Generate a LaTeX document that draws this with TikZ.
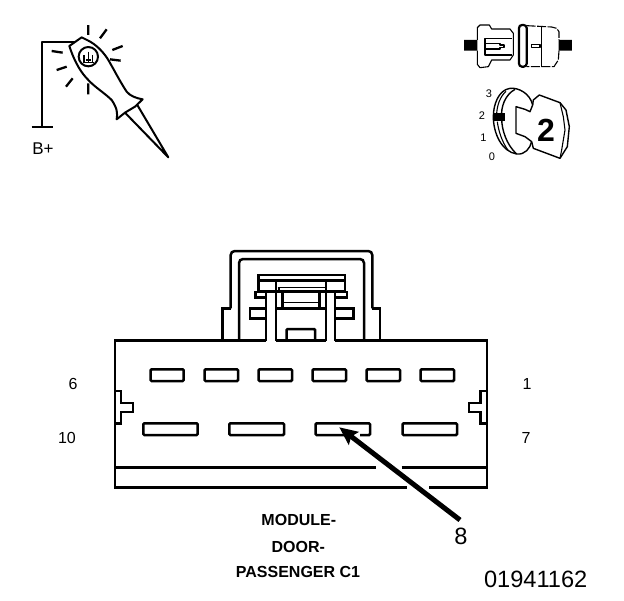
\documentclass[tikz,border=0pt]{standalone}
\usepackage{fontspec}
\setmainfont{Liberation Sans}
\usetikzlibrary{arrows.meta}
\newcommand{\fs}[1]{\fontsize{#1}{#1}\selectfont}
\tikzset{
  hv/.style={line width=2.5pt,line join=miter},
  md/.style={line width=2pt,line join=round},
  thn/.style={line width=1.1pt,line join=round},
  ray/.style={line width=2.3pt},
  contact/.style={line width=2.5pt,rounded corners=1pt},
  lbl/.style={inner sep=0pt,font=\fs{16}},
  keynum/.style={inner sep=0pt,font=\fs{11}},
  title/.style={inner sep=0pt,font=\fs{16}\bfseries},
  big/.style={inner sep=0pt,font=\fs{23.6}},
  zoomA/.style={shift={(#1)},x=0.3333pt,y=-0.3333pt}
}
\begin{document}
\begin{tikzpicture}[x=1pt,y=-1pt]
\useasboundingbox (0,0) rectangle (624,600);
\fill[white] (0,0) rectangle (624,600);

% probe
\begin{scope}[zoomA={20,10}]
\draw[md] (165,96) -- (65,96) -- (65,350);
\draw[md] (35,350) -- (100,350);
\draw[md] (148,108) -- (185,82) -- (205,92) .. controls (225,102) and (245,120) .. (262,145)
  .. controls (280,175) and (300,215) .. (320,245) .. controls (330,258) and (350,265) .. (368,268)
  -- (345,290) -- (315,308) -- (290,328) .. controls (293,310) and (292,295) .. (275,270)
  .. controls (255,250) and (225,232) .. (205,210) .. controls (185,190) and (165,160) .. (148,108) -- cycle;
\draw[md] (315,308) -- (445,442) -- (352,285);
\draw[md] (205,140) circle[radius=29];
\draw[thn] (205,125) -- (205,160) (192,135) -- (192,155) (218,135) -- (218,155) (190,158) -- (222,158) (197,150) -- (212,150);
\draw[ray] (205,45) -- (205,75) (260,58) -- (240,85) (308,108) -- (277,120) (302,152) -- (270,148)
  (95,123) -- (128,128) (110,180) -- (140,170) (138,230) -- (158,205) (205,220) -- (205,253);
\end{scope}
\node[lbl,font=\fs{17}] (bplus) at (43,149) {B+};

% inline connector icon
\begin{scope}[zoomA={460,15}]
\fill (12,75) rectangle (52,107) (296,75) rectangle (336,107);
\draw[thn] (52,75) -- (52,38) -- (60,30) -- (88,30) -- (95,42) -- (150,42) -- (160,55) -- (160,120)
  -- (150,135) -- (95,135) -- (85,155) -- (60,158) -- (52,148) -- (52,107);
\draw[thn] (155,70) -- (75,70) -- (75,120) -- (155,120);
\draw[thn] (75,85) -- (120,85) -- (120,90) -- (132,90) -- (132,98) -- (120,98) -- (120,102) -- (75,102);
\draw[line width=2.2pt,rounded corners=3pt] (177,30) rectangle (200,155);
\draw[thn,dash pattern=on 9pt off 1.5pt] (200,32) -- (275,36) -- (290,40) -- (297,50) -- (297,75);
\draw[thn,dash pattern=on 9pt off 1.5pt] (297,107) -- (295,135) -- (282,155) -- (200,155);
\draw[thn] (245,35) -- (245,155);
\draw[thn] (215,88) rectangle (240,97);
\end{scope}

% key icon
\begin{scope}[zoomA={480,80}]
\draw[thn,line width=1.4pt] (158,75) .. controls (150,40) and (115,22) .. (90,25) .. controls (55,30) and (40,75) .. (40,110)
  .. controls (40,160) and (65,215) .. (110,222) .. controls (135,225) and (150,205) .. (155,185);
\draw[thn,line width=1.4pt] (105,28) .. controls (75,45) and (62,80) .. (65,115) .. controls (65,150) and (80,195) .. (110,222);
\draw[thn] (52,125) .. controls (55,150) and (65,185) .. (85,212);
\draw[thn] (78,34) .. controls (60,50) and (52,75) .. (50,100);
\fill (38,99) rectangle (76,124);
\draw[thn,line width=1.4pt] (108,80) -- (135,88) -- (150,95) -- (158,75) -- (160,60) -- (178,45) -- (240,68)
  -- (258,90) -- (268,140) -- (262,200) -- (240,235) -- (160,205) -- (155,185) -- (135,170) -- (108,160) -- cycle;
\draw[thn] (240,68) -- (250,110) -- (255,150) -- (245,210) -- (240,235);
\end{scope}
\node[keynum] (k3) at (489,94) {3};
\node[keynum] (k2) at (482,116) {2};
\node[keynum] (k1) at (483.5,138) {1};
\node[keynum] (k0) at (492,157) {0};
\node[inner sep=0pt,font=\fs{32}\bfseries] (bigtwo) at (546,130) {2};

% hood
\draw[hv,rounded corners=4pt] (230.7,308.3) -- (230.7,251) -- (372.3,251) -- (372.3,308.3);
\draw[hv] (222.7,340.7) -- (222.7,308.3) -- (230.7,308.3) (372.3,308.3) -- (380,308.3) -- (380,340.7);
\draw[hv,rounded corners=4pt] (239,340.7) -- (239,259) -- (364,259) -- (364,340.7);
% latch
\draw[hv] (258.3,291.7) -- (258.3,275) -- (345,275) -- (345,291.7) -- cycle;
\draw[hv] (258.3,280.7) -- (345,280.7);
\draw[hv] (266,297.5) -- (255.5,297.5) -- (255.5,292) -- (347,292) -- (347,297.5) -- (335,297.5);
\draw[hv] (266,291.7) -- (266,340.7) (276,280.7) -- (276,340.7) (326,280.7) -- (326,340.7) (335,291.7) -- (335,340.7);
\draw[thn] (277.7,287.7) -- (326,287.7) (279,287.7) -- (279,291.7);
\draw[hv] (282.3,291.7) -- (282.3,308.3) (319.3,291.7) -- (319.3,308.3);
\draw[thn,line width=1.6pt] (282.3,302.3) -- (319.3,302.3);
\draw[hv] (276,308.3) -- (326,308.3);
\draw[hv] (266,308.3) -- (250,308.3) -- (250,318.3) -- (266,318.3);
\draw[hv] (335,308.3) -- (353.3,308.3) -- (353.3,318.3) -- (335,318.3);
\draw[hv,rounded corners=1pt] (286.7,340.7) -- (286.7,329) -- (315,329) -- (315,340.7);

% body with gaps
\draw[hv] (266,340.7) -- (115,340.7) -- (115,487.3) -- (406.7,487.3);
\draw[hv] (429.3,487.3) -- (487,487.3) -- (487,340.7) -- (335,340.7);
\draw[hv] (276,340.7) -- (326,340.7);
\draw[hv] (115,467.3) -- (376,467.3) (401.7,467.3) -- (487,467.3);
\draw[hv] (115,391) -- (121,391) -- (121,403) -- (133,403) -- (133,412) -- (121,412) -- (121,423.3) -- (115,423.3);
\draw[hv] (487,391) -- (480.5,391) -- (480.5,403) -- (469,403) -- (469,412) -- (480.5,412) -- (480.5,423.3) -- (487,423.3);

% contacts
\foreach \a/\b in {150.7/183.7,204.7/238,258.7/292,312.7/346,366.7/400,420.7/454}
  \draw[contact] (\a,369.3) rectangle (\b,381);
\foreach \a/\b in {143.3/197.7,229.3/284,402.7/457}
  \draw[contact] (\a,423.3) rectangle (\b,435);
\draw[contact] (345,435) -- (315.7,435) -- (315.7,423.3) -- (370,423.3) -- (370,435) -- (360,435);

% labels
\node[lbl] (n6) at (73,384) {6};
\node[lbl] (n10) at (67,438) {10};
\node[lbl] (n1) at (527,384) {1};
\node[lbl] (n7) at (526,438) {7};
\node[big] (n8) at (461,536) {8};
\coordinate (tail) at (460,520);
\coordinate (tip) at (339.3,427.3);
\draw[line width=5pt,-{Stealth[length=18pt,width=16pt,inset=3pt]}] (tail) -- (tip);

\node[title] (t1) at (298.8,519.5) {MODULE-};
\node[title] (t2) at (298.3,546.7) {DOOR-};
\node[title] (t3) at (298,571.7) {PASSENGER C1};
\node[big] (code) at (535.7,579) {01941162};
\end{tikzpicture}
\end{document}
